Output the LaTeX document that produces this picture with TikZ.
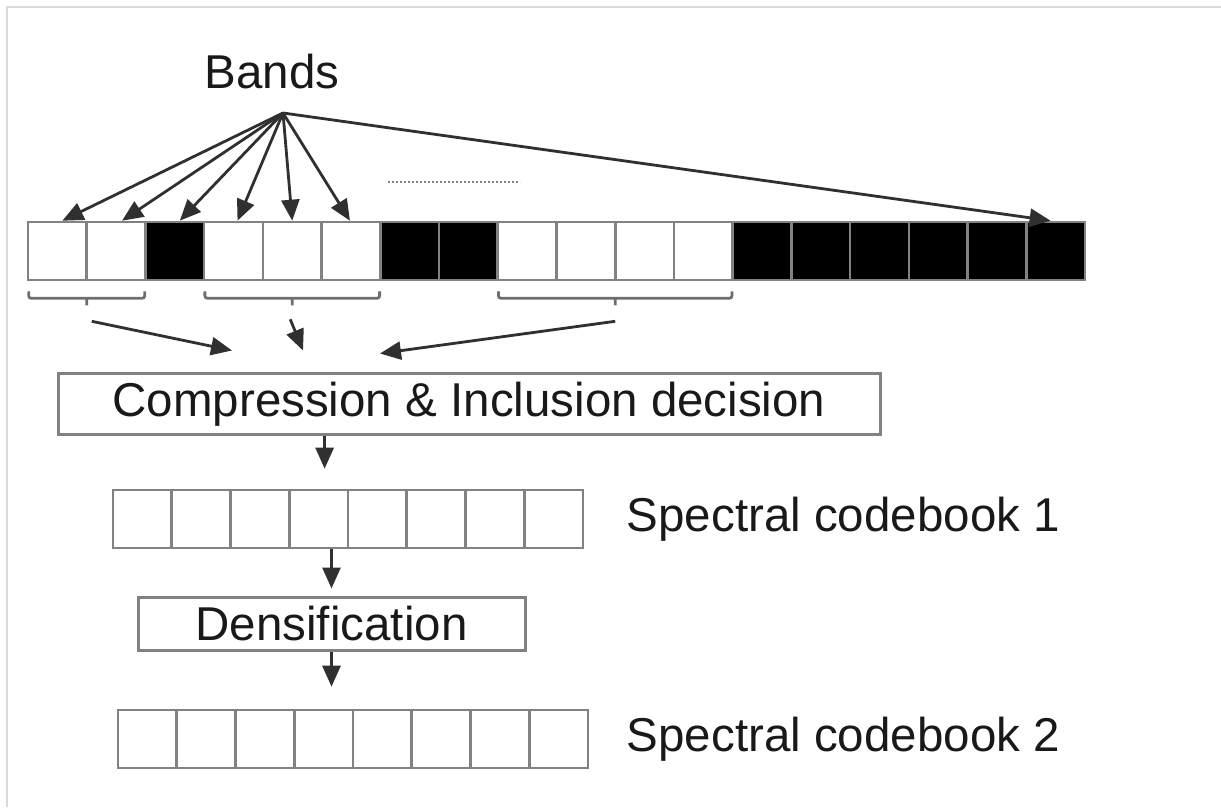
\documentclass[tikz,border=0pt]{standalone}
\usepackage{fontspec}
\setmainfont{Liberation Sans}
\usepackage{tikz}
\usetikzlibrary{arrows.meta,positioning,calc}
\definecolor{framegray}{RGB}{218,218,218}
\definecolor{linegray}{RGB}{130,130,130}
\definecolor{inkgray}{RGB}{25,25,25}

\begin{document}
\begin{tikzpicture}[x=1pt,y=1pt,
  every node/.style={font=\fontsize{47.5}{56}\selectfont,text=inkgray},
  cell/.style={rectangle,draw=linegray,line width=2.6pt,
               minimum width=58.7pt,minimum height=58pt,inner sep=0pt},
  stage/.style={rectangle,draw=linegray,line width=3pt,inner sep=0pt},
  arrow/.style={-{Triangle[length=21pt,width=18pt]},line width=2.8pt,draw=inkgray!90},
  group/.style={line width=2.8pt,draw=linegray!85!black,rounded corners=2.5pt},
]
\useasboundingbox (0,0) rectangle (1221,807);

% Frame
\draw[framegray,line width=2pt] (7,0) -- (7,800) -- (1221,800);

% Bands label and fan source
\node (bands) at (272,735) {Bands};
\coordinate (src) at (283,694);

% Band row
\foreach \i/\f in {1/white,2/white,3/black,4/white,5/white,6/white,
                   7/black,8/black,9/white,10/white,11/white,12/white,
                   13/black,14/black,15/black,16/black,17/black,18/black}
  \node[cell,fill=\f] (b\i) at ({28+(\i-0.5)*58.72},556) {};

% Arrows from Bands to the cells
\foreach \i/\s in {1/5,2/6,3/5,4/4,5/0,6/-1}
  \draw[arrow] (src) -- ([xshift=\s pt]b\i.north);
\draw[arrow] (src) -- ([xshift=-5pt]b18.north);

\draw[linegray,dotted,line width=2pt] (388,625) -- (520,625);

% Groups of bands
\foreach \l/\r/\n in {1/2/1,4/6/2,9/12/3}
  \draw[group] ([xshift=2pt,yshift=-10pt]b\l.south west) -- ++(0,-7)
    -- ([xshift=-2pt,yshift=-17pt]b\r.south east) -- ++(0,7)
    ($([yshift=-17pt]b\l.south west)!0.5!([yshift=-17pt]b\r.south east)$)
    coordinate (g\n) -- ++(0,-7);

% Compression stage
\node[stage,minimum width=822pt,minimum height=61pt] (comp) at (469,402.5)
      {Compression \& Inclusion decision};

\coordinate (g1s) at ($(g1)+(5,-23)$);
\coordinate (g2s) at ($(g2)+(-2,-21)$);
\coordinate (g3s) at ($(g3)+(0,-23)$);
\coordinate (t1) at ($(comp.north)+(-237,22)$);
\coordinate (t2) at ($(comp.north)+(-166,22)$);
\coordinate (t3) at ($(comp.north)+(-89,19)$);
\draw[arrow] (g1s) -- (t1);
\draw[arrow] (g2s) -- (t2);
\draw[arrow] (g3s) -- (t3);

% Spectral codebook 1
\foreach \i in {1,...,8}
  \node[cell,minimum width=58.75pt] (cbA\i) at ({113+(\i-0.5)*58.75},288) {};
\node[right=39pt of cbA8] (labA) {Spectral codebook 1};

\coordinate (c1top) at ([xshift=6pt]cbA4.north);
\draw[arrow,shorten >=20pt] (comp.south -| c1top) -- (c1top);

% Densification stage
\node[stage,minimum width=387pt,minimum height=53pt] (dens) at (331.5,183.5)
      {Densification};
\draw[arrow,shorten >=7pt] (dens.north |- cbA4.south) -- (dens.north);

% Spectral codebook 2
\foreach \i in {1,...,8}
  \node[cell,minimum width=58.75pt] (cbB\i) at ({118+(\i-0.5)*58.75},68) {};
\node[right=34pt of cbB8] (labB) {Spectral codebook 2};

\draw[arrow,shorten >=22pt] (dens.south) -- (dens.south |- cbB4.north);

\end{tikzpicture}
\end{document}
